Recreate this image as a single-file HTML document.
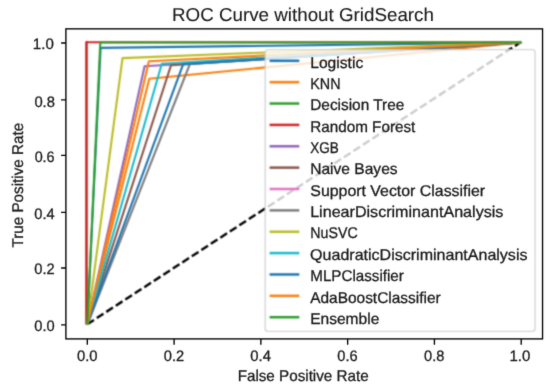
<!DOCTYPE html>
<html><head><meta charset="utf-8"><style>
html,body{margin:0;padding:0;background:#fff;overflow:hidden;}
svg{display:block;}
</style></head><body>
<svg width="550" height="389" viewBox="0 0 550 389" font-family='"Liberation Sans", sans-serif' text-rendering="geometricPrecision">
<defs><filter id="jp" x="-20" y="-20" width="590" height="429" filterUnits="userSpaceOnUse" color-interpolation-filters="sRGB">
<feConvolveMatrix in="SourceGraphic" order="3" kernelMatrix="0.0439 0.1217 0.0439 0.1217 0.3377 0.1217 0.0439 0.1217 0.0439" divisor="1" preserveAlpha="true" edgeMode="duplicate" result="lb"/>
<feColorMatrix in="lb" type="matrix" values="0.299 0.587 0.114 0 0  0.299 0.587 0.114 0 0  0.299 0.587 0.114 0 0  0 0 0 1 0" result="Y"/>
<feConvolveMatrix in="SourceGraphic" order="3" kernelMatrix="0.0626 0.1250 0.0626 0.1250 0.2497 0.1250 0.0626 0.1250 0.0626" divisor="1" preserveAlpha="true" edgeMode="duplicate" result="cb"/>
<feColorMatrix in="cb" type="matrix" values="0.701 -0.587 -0.114 0 0.5  -0.299 0.413 -0.114 0 0.5  -0.299 -0.587 0.886 0 0.5  0 0 0 1 0" result="C"/>
<feComposite in="Y" in2="C" operator="arithmetic" k1="0" k2="1" k3="1" k4="-0.5"/>
</filter>
<filter id="tx" x="-20" y="-20" width="590" height="429" filterUnits="userSpaceOnUse" color-interpolation-filters="sRGB">
<feConvolveMatrix in="SourceGraphic" order="3" kernelMatrix="0.0113 0.0838 0.0113 0.0838 0.6193 0.0838 0.0113 0.0838 0.0113" divisor="1" preserveAlpha="false" edgeMode="none"/>
</filter></defs>
<g filter="url(#jp)">
<rect x="-20" y="-20" width="590" height="429" fill="#fff"/>
<line x1="87.30" y1="324.25" x2="521.20" y2="41.85" stroke="#000" stroke-width="2.4" stroke-dasharray="7.92 3.42"/>
<g fill="none" stroke-width="2.1" stroke-linejoin="round" stroke-linecap="butt">
<polyline stroke="#1f77b4" points="87.30,324.55 100.60,47.90 521.20,42.45"/>
<polyline stroke="#ff7f0e" points="87.30,324.55 149.30,78.80 521.20,42.45"/>
<polyline stroke="#c42a25" stroke-width="2.6" points="86.50,324.55 86.50,42.2 87.80,42.2"/>
<polyline stroke="#d62728" points="86.50,42.2 521.20,42.2"/>
<polyline stroke="#9467bd" points="87.30,324.55 144.60,66.30 521.20,42.45"/>
<polyline stroke="#8c564b" points="87.30,324.55 171.00,65.30 521.20,42.45"/>
<polyline stroke="#7f7f7f" points="87.30,324.55 189.90,64.00 521.20,42.45"/>
<polyline stroke="#bcbd22" points="87.30,324.55 122.50,58.10 521.20,42.45"/>
<polyline stroke="#17becf" points="87.30,324.55 161.80,63.70 521.20,42.45"/>
<polyline stroke="#1f77b4" points="87.30,324.55 183.10,64.30 521.20,42.45"/>
<polyline stroke="#ff7f0e" points="87.30,324.55 148.90,61.30 521.20,42.45"/>
<polyline stroke="#2ca02c" points="87.30,324.55 100.30,42.45 521.20,42.45"/>
</g>
<rect x="265.2" y="49.65" width="269.90" height="281.75" rx="2.8" ry="2.8" fill="#fff" fill-opacity="0.8" stroke="#cccccc" stroke-opacity="0.8" stroke-width="1.4"/>
<line x1="269.6" y1="60.80" x2="299.3" y2="60.80" stroke="#1f77b4" stroke-width="2.5"/>
<line x1="269.6" y1="82.17" x2="299.3" y2="82.17" stroke="#ff7f0e" stroke-width="2.5"/>
<line x1="269.6" y1="103.53" x2="299.3" y2="103.53" stroke="#2ca02c" stroke-width="2.5"/>
<line x1="269.6" y1="124.90" x2="299.3" y2="124.90" stroke="#d62728" stroke-width="2.5"/>
<line x1="269.6" y1="146.27" x2="299.3" y2="146.27" stroke="#9467bd" stroke-width="2.5"/>
<line x1="269.6" y1="167.63" x2="299.3" y2="167.63" stroke="#8c564b" stroke-width="2.5"/>
<line x1="269.6" y1="189.00" x2="299.3" y2="189.00" stroke="#e377c2" stroke-width="2.5"/>
<line x1="269.6" y1="210.37" x2="299.3" y2="210.37" stroke="#7f7f7f" stroke-width="2.5"/>
<line x1="269.6" y1="231.73" x2="299.3" y2="231.73" stroke="#bcbd22" stroke-width="2.5"/>
<line x1="269.6" y1="253.10" x2="299.3" y2="253.10" stroke="#17becf" stroke-width="2.5"/>
<line x1="269.6" y1="274.47" x2="299.3" y2="274.47" stroke="#1f77b4" stroke-width="2.5"/>
<line x1="269.6" y1="295.83" x2="299.3" y2="295.83" stroke="#ff7f0e" stroke-width="2.5"/>
<line x1="269.6" y1="317.20" x2="299.3" y2="317.20" stroke="#2ca02c" stroke-width="2.5"/>
</g>
<g filter="url(#tx)">
<rect x="65.90" y="28.85" width="476.65" height="310.05" fill="none" stroke="#000" stroke-width="1.35" stroke-linejoin="miter"/>
<path d="M87.30,338.90v5.8M65.90,324.85h-4.8M174.08,338.90v5.8M65.90,268.00h-4.8M260.86,338.90v5.8M65.90,212.44h-4.8M347.64,338.90v5.8M65.90,155.35h-4.8M434.42,338.90v5.8M65.90,99.90h-4.8M521.20,338.90v5.8M65.90,43.00h-4.8" stroke="#000" stroke-width="1.35"/>
<g fill="#1a1a1a" stroke="#1a1a1a" stroke-width="0.3">
<text stroke-width="0.1" x="172.06" y="20.90" font-size="18.6" textLength="261.86" lengthAdjust="spacingAndGlyphs">ROC Curve without GridSearch</text>
<text x="237.65" y="380.75" font-size="15.55" textLength="131.02" lengthAdjust="spacingAndGlyphs">False Positive Rate</text>
<text x="-247.54" y="22.85" font-size="15.55" textLength="124.72" lengthAdjust="spacingAndGlyphs" transform="rotate(-90)">True Positive Rate</text>
<text x="32.85" y="49.30" font-size="15.1" textLength="20.94" lengthAdjust="spacingAndGlyphs">1.0</text>
<text x="34.42" y="106.50" font-size="15.1" textLength="20.52" lengthAdjust="spacingAndGlyphs">0.8</text>
<text x="34.64" y="161.80" font-size="15.1" textLength="19.99" lengthAdjust="spacingAndGlyphs">0.6</text>
<text x="34.23" y="219.00" font-size="15.1" textLength="20.40" lengthAdjust="spacingAndGlyphs">0.4</text>
<text x="34.23" y="274.25" font-size="15.1" textLength="20.41" lengthAdjust="spacingAndGlyphs">0.2</text>
<text x="34.33" y="331.10" font-size="15.1" textLength="20.34" lengthAdjust="spacingAndGlyphs">0.0</text>
<text x="77.02" y="360.90" font-size="15.1" textLength="20.56" lengthAdjust="spacingAndGlyphs">0.0</text>
<text x="163.83" y="360.90" font-size="15.1" textLength="20.41" lengthAdjust="spacingAndGlyphs">0.2</text>
<text x="250.32" y="360.90" font-size="15.1" textLength="20.61" lengthAdjust="spacingAndGlyphs">0.4</text>
<text x="337.33" y="360.90" font-size="15.1" textLength="20.31" lengthAdjust="spacingAndGlyphs">0.6</text>
<text x="424.03" y="360.90" font-size="15.1" textLength="20.31" lengthAdjust="spacingAndGlyphs">0.8</text>
<text x="509.46" y="360.90" font-size="15.1" textLength="20.83" lengthAdjust="spacingAndGlyphs">1.0</text>
<text x="310.21" y="67.55" font-size="15.55" textLength="53.00" lengthAdjust="spacingAndGlyphs">Logistic</text>
<text x="310.32" y="88.92" font-size="15.55" textLength="30.25" lengthAdjust="spacingAndGlyphs">KNN</text>
<text x="310.23" y="110.28" font-size="15.55" textLength="94.05" lengthAdjust="spacingAndGlyphs">Decision Tree</text>
<text x="310.24" y="131.65" font-size="15.55" textLength="105.07" lengthAdjust="spacingAndGlyphs">Random Forest</text>
<text x="310.22" y="153.02" font-size="15.55" textLength="28.49" lengthAdjust="spacingAndGlyphs">XGB</text>
<text x="310.22" y="174.38" font-size="15.55" textLength="87.35" lengthAdjust="spacingAndGlyphs">Naive Bayes</text>
<text x="310.31" y="195.75" font-size="15.55" textLength="174.85" lengthAdjust="spacingAndGlyphs">Support Vector Classifier</text>
<text x="310.17" y="217.12" font-size="15.55" textLength="193.21" lengthAdjust="spacingAndGlyphs">LinearDiscriminantAnalysis</text>
<text x="310.33" y="238.48" font-size="15.55" textLength="47.31" lengthAdjust="spacingAndGlyphs">NuSVC</text>
<text x="310.14" y="259.85" font-size="15.55" textLength="217.34" lengthAdjust="spacingAndGlyphs">QuadraticDiscriminantAnalysis</text>
<text x="310.25" y="281.22" font-size="15.55" textLength="93.60" lengthAdjust="spacingAndGlyphs">MLPClassifier</text>
<text x="310.18" y="302.58" font-size="15.55" textLength="130.48" lengthAdjust="spacingAndGlyphs">AdaBoostClassifier</text>
<text x="310.22" y="323.95" font-size="15.55" textLength="69.07" lengthAdjust="spacingAndGlyphs">Ensemble</text>
</g>
</g>
</svg>
</body></html>
